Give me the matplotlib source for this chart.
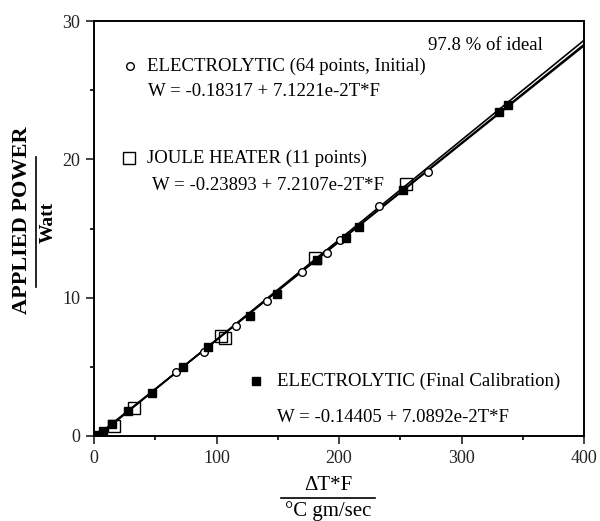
import matplotlib
matplotlib.use("Agg")
import matplotlib.pyplot as plt
import numpy as np

plt.rcParams['font.family'] = ['Liberation Serif', 'DejaVu Serif']

# Data
init_x = [67, 90, 116, 141, 170, 190, 201, 233, 273]
init_y = [4.6, 6.1, 7.95, 9.75, 11.85, 13.2, 14.15, 16.6, 19.1]

joule_x = [16, 33, 104, 107, 180, 255]
joule_y = [0.7, 2.0, 7.25, 7.1, 12.9, 18.2]

final_x = [2.5, 7, 15, 28, 47, 73, 93, 127, 149, 182, 206, 216, 252, 331, 338]
final_y = [0.1, 0.35, 0.85, 1.8, 3.1, 5.0, 6.4, 8.7, 10.3, 12.7, 14.3, 15.1, 17.8, 23.4, 23.9]

fits = [(-0.18317, 7.1221e-2), (-0.23893, 7.2107e-2), (-0.14405, 7.0892e-2)]
fit_range = [0, 400]

fig = plt.figure(figsize=(6.0, 5.21), dpi=100)
ax = fig.add_axes([94/600, 1-436/521, (584-94)/600, (436-21)/521])

xx = np.array(fit_range, dtype=float)
for a, b in fits:
    ax.plot(xx, a + b*xx, color='black', lw=1.2, zorder=2)

ax.plot(init_x, init_y, 'o', mfc='white', mec='black', ms=5.5, mew=1.0, zorder=3)
ax.plot(joule_x, joule_y, 's', mfc='none', mec='black', ms=8.5, mew=1.0, zorder=4)
ax.plot(final_x, final_y, 's', mfc='black', mec='black', ms=5.5, zorder=3)

ax.set_xlim(0, 400)
ax.set_ylim(0, 30)
ax.set_xticks([0, 100, 200, 300, 400])
ax.set_xticks([50, 150, 250, 350], minor=True)
ax.set_yticks([0, 10, 20, 30])
ax.set_yticks([5, 15, 25], minor=True)
ax.tick_params(which='major', direction='out', length=6, width=1.2, labelsize=13, pad=4, colors='#222222')
ax.tick_params(which='minor', direction='out', length=3, width=1.2)
for s in ax.spines.values():
    s.set_linewidth(1.4)

fs = 13.5
def axpos(px, py):
    return ((px-94)/490, (436-py)/415)

ax.plot(*axpos(130, 66), 'o', mfc='white', mec='black', ms=5.5, mew=1.0, transform=ax.transAxes, clip_on=False)
ax.text(*axpos(147, 66), 'ELECTROLYTIC (64 points, Initial)', transform=ax.transAxes, fontsize=fs, va='center', ha='left')
ax.text(*axpos(148, 92), 'W = -0.18317 + 7.1221e-2T*F', transform=ax.transAxes, fontsize=fs, va='center', ha='left')

ax.plot(*axpos(129, 158), 's', mfc='none', mec='black', ms=8.5, mew=1.0, transform=ax.transAxes, clip_on=False)
ax.text(*axpos(147, 158), 'JOULE HEATER (11 points)', transform=ax.transAxes, fontsize=fs, va='center', ha='left')
ax.text(*axpos(152, 185), 'W = -0.23893 + 7.2107e-2T*F', transform=ax.transAxes, fontsize=fs, va='center', ha='left')

ax.plot(*axpos(256, 381), 's', mfc='black', mec='black', ms=5.5, transform=ax.transAxes, clip_on=False)
ax.text(*axpos(277, 381), 'ELECTROLYTIC (Final Calibration)', transform=ax.transAxes, fontsize=fs, va='center', ha='left')
ax.text(*axpos(277, 417), 'W = -0.14405 + 7.0892e-2T*F', transform=ax.transAxes, fontsize=fs, va='center', ha='left')

ax.text(*axpos(428, 45), '97.8 % of ideal', transform=ax.transAxes, fontsize=fs, va='center', ha='left')

# X axis label
fig.text(328/600, 1-486/521, 'ΔT*F', ha='center', va='center', fontsize=15)
fig.add_artist(plt.Line2D([281/600, 375/600], [1-498/521, 1-498/521], color='black', lw=1.2))
fig.text(328/600, 1-511/521, '°C gm/sec', ha='center', va='center', fontsize=15)

# Y axis label
fig.text(22/600, 1-220/521, 'APPLIED POWER', ha='center', va='center', rotation=90, fontsize=16, fontweight='bold')
fig.add_artist(plt.Line2D([36/600, 36/600], [1-157/521, 1-287/521], color='black', lw=1.2))
fig.text(48/600, 1-222/521, 'Watt', ha='center', va='center', rotation=90, fontsize=14, fontweight='bold')

fig.savefig('out.png', dpi=100)
